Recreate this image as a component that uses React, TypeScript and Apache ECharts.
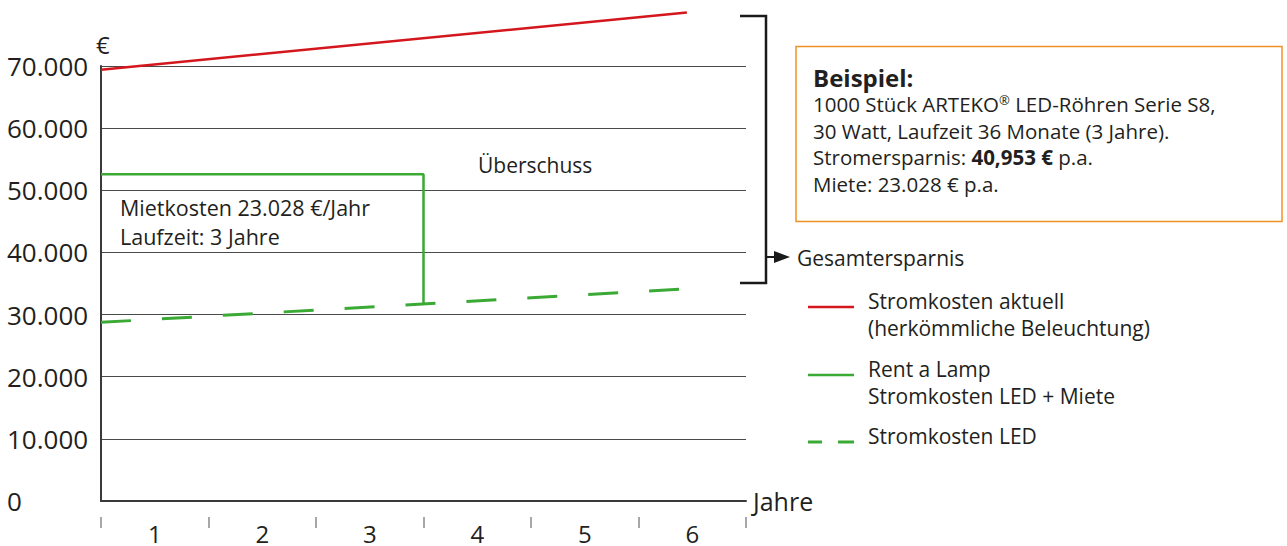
import React, { useEffect, useRef } from 'react';
import * as echarts from 'echarts';

// ---- data ----
const years = ['1', '2', '3', '4', '5', '6'];
const yMin = 0;
const yMax = 70000;
const yStep = 10000;
// [year position, €]
const stromAktuell: [number, number][] = [[0, 69400], [5.45, 78600]];
const rentALamp: [number, number][] = [[0, 52600], [3, 52600], [3, 31700]];
const stromLED: [number, number][] = [[0, 28750], [5.45, 34150]];

const FONT = '"Open Sans", "Noto Sans", sans-serif';
const TEXT = '#231f20';
const RED = '#d4161d';
const GREEN = '#3aaa35';
const ORANGE = '#f29224';

const fmtY = (v: number) => (v === 0 ? '0' : `${v / 1000}.000`);

const txt = (x: number, y: number, text: string, fontSize = 21, extra: any = {}) => ({
  type: 'text',
  x,
  y,
  style: {
    text,
    fontSize,
    lineHeight: Math.round(fontSize * 1.1),
    fontFamily: FONT,
    fill: TEXT,
    verticalAlign: 'middle',
    align: 'left',
    ...extra,
  },
});

export default function App() {
  const ref = useRef<HTMLDivElement>(null);
  useEffect(() => {
    if (!ref.current) return;
    const chart = echarts.init(ref.current, undefined, { renderer: 'svg' });
    const option: any = {
      animation: false,
      backgroundColor: '#ffffff',
      textStyle: { fontFamily: FONT },
      grid: { left: 101, top: 66, right: 541, bottom: 45, containLabel: false },
      xAxis: [
        {
          type: 'value',
          min: 0,
          max: years.length,
          axisLine: { show: true, onZero: false, lineStyle: { color: '#3a3a3a', width: 2 } },
          axisTick: { show: false },
          axisLabel: { show: false },
          splitLine: { show: false },
          name: 'Jahre',
          nameLocation: 'end',
          nameGap: 7,
          nameTextStyle: { fontSize: 25, color: TEXT, fontFamily: FONT, verticalAlign: 'middle' },
        },
        {
          type: 'category',
          data: years,
          position: 'bottom',
          offset: 16,
          boundaryGap: true,
          axisLine: { show: false, onZero: false },
          axisTick: { show: true, length: 11, lineStyle: { color: '#8a8a8a', width: 1.5 } },
          axisLabel: { fontSize: 24, lineHeight: 20, color: TEXT, fontFamily: FONT, margin: 6 },
          splitLine: { show: false },
        },
      ],
      yAxis: {
        type: 'value',
        min: yMin,
        max: yMax,
        interval: yStep,
        axisLine: { show: true, lineStyle: { color: '#3a3a3a', width: 2 } },
        axisTick: { show: false },
        axisLabel: {
          align: 'left',
          margin: 94,
          fontSize: 26,
          color: TEXT,
          fontFamily: FONT,
          formatter: fmtY,
        },
        splitLine: { show: true, lineStyle: { color: '#4a4a4a', width: 1 } },
      },
      series: [
        {
          name: 'Stromkosten aktuell',
          type: 'line',
          data: stromAktuell,
          symbol: 'none',
          clip: false,
          lineStyle: { color: RED, width: 2.5 },
          z: 5,
        },
        {
          name: 'Rent a Lamp',
          type: 'line',
          data: rentALamp,
          symbol: 'none',
          clip: false,
          lineStyle: { color: GREEN, width: 2.5 },
          z: 5,
        },
        {
          name: 'Stromkosten LED',
          type: 'line',
          data: stromLED,
          symbol: 'none',
          clip: false,
          lineStyle: { color: GREEN, width: 3, type: [30, 31] },
          z: 5,
        },
      ],
      graphic: [
        txt(96, 44, '€', 24),
        txt(120, 207, 'Mietkosten 23.028 €/Jahr', 21.5),
        txt(120, 236, 'Laufzeit: 3 Jahre', 21.5),
        txt(478, 165, 'Überschuss'),
        // bracket
        {
          type: 'polyline',
          shape: { points: [[740, 16], [766, 16], [766, 283], [740, 283]] },
          style: { stroke: '#1a1a1a', lineWidth: 2.5, fill: 'none' },
        },
        {
          type: 'line',
          shape: { x1: 766, y1: 257, x2: 777, y2: 257 },
          style: { stroke: '#1a1a1a', lineWidth: 2 },
        },
        {
          type: 'polygon',
          shape: { points: [[774, 251], [790, 257], [774, 263]] },
          style: { fill: '#1a1a1a' },
        },
        txt(797, 258, 'Gesamtersparnis', 21),
        // example box
        {
          type: 'rect',
          shape: { x: 796, y: 46.5, width: 486, height: 175 },
          style: { stroke: ORANGE, lineWidth: 1.5, fill: 'none' },
        },
        txt(813, 77, 'Beispiel:', 24, { fontWeight: 'bold' }),
        {
          type: 'text',
          x: 813,
          y: 104,
          style: {
            text: '{n|1000 Stück ARTEKO}{s|®}{n| LED-Röhren Serie S8,}',
            fontFamily: FONT,
            fontSize: 20.5,
            lineHeight: 22,
            fill: TEXT,
            verticalAlign: 'middle',
            align: 'left',
            rich: {
              n: { fontSize: 20.5, lineHeight: 22, fontFamily: FONT, fill: TEXT, color: TEXT },
              s: { fontSize: 13, lineHeight: 22, fontFamily: FONT, fill: TEXT, color: TEXT, verticalAlign: 'top' },
            },
          },
        },
        txt(813, 130.5, '30 Watt, Laufzeit 36 Monate (3 Jahre).', 20.5),
        {
          type: 'text',
          x: 813,
          y: 157,
          style: {
            text: '{n|Stromersparnis: }{b|40,953 €}{n| p.a.}',
            fontFamily: FONT,
            fontSize: 20.5,
            lineHeight: 22,
            fill: TEXT,
            verticalAlign: 'middle',
            align: 'left',
            rich: {
              n: { fontSize: 20.5, lineHeight: 22, fontFamily: FONT, fill: TEXT, color: TEXT },
              b: { fontSize: 20.5, lineHeight: 22, fontFamily: FONT, fontWeight: 'bold', fill: TEXT, color: TEXT },
            },
          },
        },
        txt(813, 183.5, 'Miete: 23.028 € p.a.', 20.5),
        // legend
        {
          type: 'line',
          shape: { x1: 808, y1: 307, x2: 854, y2: 307 },
          style: { stroke: RED, lineWidth: 2.5 },
        },
        txt(868, 301, 'Stromkosten aktuell'),
        txt(868, 328, '(herkömmliche Beleuchtung)'),
        {
          type: 'line',
          shape: { x1: 808, y1: 375, x2: 854, y2: 375 },
          style: { stroke: GREEN, lineWidth: 2.5 },
        },
        txt(868, 369, 'Rent a Lamp'),
        txt(868, 396, 'Stromkosten LED + Miete'),
        {
          type: 'line',
          shape: { x1: 808, y1: 442, x2: 822, y2: 442 },
          style: { stroke: GREEN, lineWidth: 3 },
        },
        {
          type: 'line',
          shape: { x1: 838, y1: 442, x2: 854, y2: 442 },
          style: { stroke: GREEN, lineWidth: 3 },
        },
        txt(868, 436, 'Stromkosten LED'),
      ],
    };
    chart.setOption(option);
    return () => chart.dispose();
  }, []);
  return (
    <div
      ref={ref}
      style={{ position: 'fixed', left: 0, top: 0, width: 1287, height: 546, background: '#fff' }}
    />
  );
}
